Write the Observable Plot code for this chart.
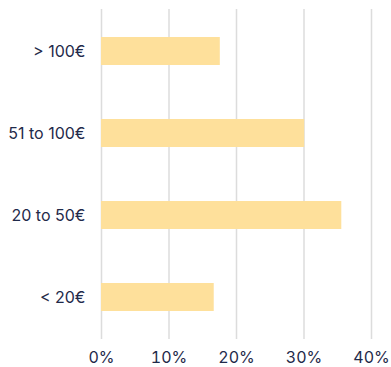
<!DOCTYPE html>
<html><head>
<meta charset="utf-8">
<script src="https://cdn.jsdelivr.net/npm/d3@7"></script>
<script src="https://cdn.jsdelivr.net/npm/@observablehq/plot@0.6"></script>
<style>body{margin:0;background:#fff}</style>
</head><body><div id="chart"></div>
<script>
const categories = ["> 100€", "51 to 100€", "20 to 50€", "< 20€"];
const values = [0.176, 0.301, 0.356, 0.167];
const xTicks = [0, 0.1, 0.2, 0.3, 0.4];
const data = categories.map((c, i) => ({category: c, value: values[i]}));
const fmt = d3.format(".0%");
const chart = Plot.plot({
  width: 391, height: 367,
  marginLeft: 101, marginRight: 20, marginTop: 9, marginBottom: 28,
  style: {fontFamily: "Inter, 'Open Sans', sans-serif", fontSize: "16px", color: "#1f2a4a", background: "#fff"},
  x: {domain: [0, 0.4], label: null},
  y: {domain: categories, padding: 0, label: null},
  marks: [
    Plot.gridX(xTicks, {stroke: "#dcdcdc", strokeOpacity: 1, strokeWidth: 1.5}),
    Plot.barX(data, {x: "value", y: "category", fill: "#fee09b", insetTop: 27, insetBottom: 27}),
    Plot.axisX({ticks: xTicks, tickFormat: fmt, tickSize: 0, tickPadding: 12, label: null, fontSize: 16}),
    Plot.axisY({tickSize: 0, tickPadding: 16, label: null, fontSize: 16})
  ]
});
document.getElementById("chart").append(chart);
</script>
</body></html>
